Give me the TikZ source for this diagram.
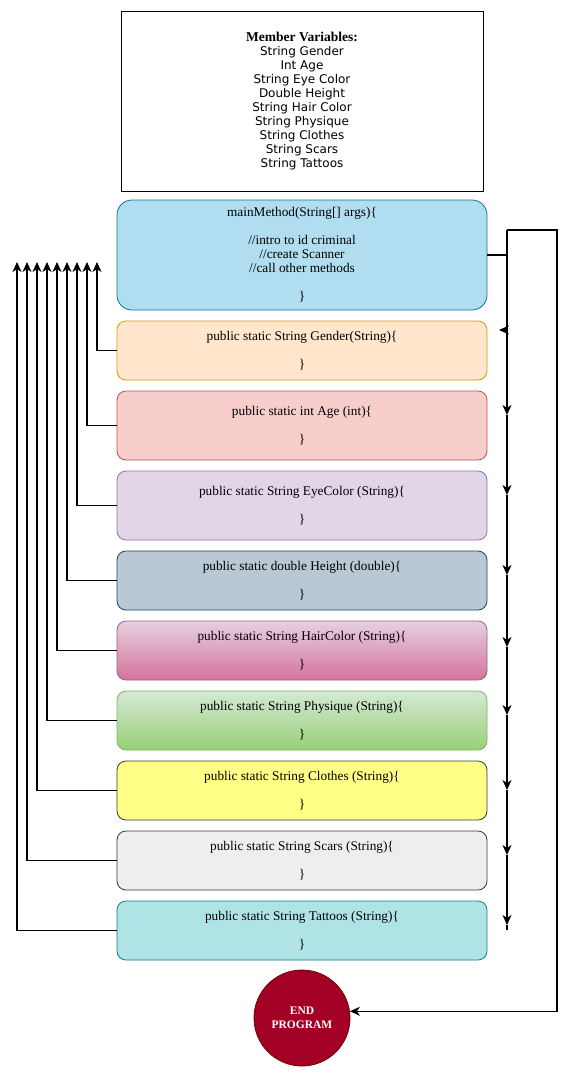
\documentclass[tikz,border=0pt]{standalone}
\usepackage{fontspec}
\setmainfont{Liberation Serif}
\newfontfamily\varfont{DejaVu Sans}
\usetikzlibrary{arrows.meta}

\definecolor{mainfill}{HTML}{B1DDF0}
\definecolor{mainline}{HTML}{10739E}
\definecolor{genfill}{HTML}{FFE6CC}
\definecolor{genline}{HTML}{D79B00}
\definecolor{agefill}{HTML}{F8CECC}
\definecolor{ageline}{HTML}{B85450}
\definecolor{eyefill}{HTML}{E1D5E7}
\definecolor{eyeline}{HTML}{9673A6}
\definecolor{hgtfill}{HTML}{BAC8D3}
\definecolor{hgtline}{HTML}{23445D}
\definecolor{hairtop}{HTML}{E6D0DE}
\definecolor{hairbot}{HTML}{D5739D}
\definecolor{hairline}{HTML}{996185}
\definecolor{phytop}{HTML}{D5E8D4}
\definecolor{phybot}{HTML}{97D077}
\definecolor{phyline}{HTML}{82B366}
\definecolor{clofill}{HTML}{FFFF88}
\definecolor{greyline}{HTML}{36393D}
\definecolor{scarfill}{HTML}{EEEEEE}
\definecolor{tatfill}{HTML}{B0E3E6}
\definecolor{tatline}{HTML}{0E8088}
\definecolor{endfill}{HTML}{A20025}
\definecolor{endline}{HTML}{6F0000}

\begin{document}
\begin{tikzpicture}[x=1pt,y=-1pt,
    method/.style={draw, line width=0.8pt, rounded corners=9pt, minimum width=370pt,
      minimum height=59pt, inner sep=0pt, align=center,
      font=\fontsize{13.3}{14}\selectfont},
    link/.style={-{Stealth[length=10pt,width=9pt,inset=3pt]}, line width=1.1pt}]

  \useasboundingbox (0,0) rectangle (576,1076);
  \fill[white] (0,0) rectangle (576,1076);

  % member variables
  \node[draw, line width=1pt, minimum width=362pt, minimum height=180pt, inner sep=0pt,
    align=center, font=\varfont\fontsize{12}{14}\selectfont] (vars) at (302,101)
    {{\rmfamily\bfseries\fontsize{13.5}{14}\selectfont Member Variables:}\\
     String Gender\\Int Age\\String Eye Color\\Double Height\\String Hair Color\\
     String Physique\\String Clothes\\String Scars\\String Tattoos};

  % methods
  \node[method, rounded corners=15pt, minimum height=110pt, fill=mainfill, draw=mainline]
    (main) at (302,255)
    {mainMethod(String[] args)\{\\~\\//intro to id criminal\\//create Scanner\\
     //call other methods\\~\\\}};
  \node[method, fill=genfill, draw=genline] (gender) at (302,350.5)
    {public static String Gender(String)\{\\~\\\}};
  \node[method, minimum height=69pt, fill=agefill, draw=ageline] (age) at (302,425.5)
    {public static int Age (int)\{\\~\\\}};
  \node[method, minimum height=69pt, fill=eyefill, draw=eyeline] (eye) at (302,505.5)
    {public static String EyeColor (String)\{\\~\\\}};
  \node[method, fill=hgtfill, draw=hgtline] (height) at (302,580.5)
    {public static double Height (double)\{\\~\\\}};
  \node[method, top color=hairtop, bottom color=hairbot, draw=hairline] (hair) at (302,650.5)
    {public static String HairColor (String)\{\\~\\\}};
  \node[method, top color=phytop, bottom color=phybot, draw=phyline] (physique) at (302,720.5)
    {public static String Physique (String)\{\\~\\\}};
  \node[method, fill=clofill, draw=greyline] (clothes) at (302,790.5)
    {public static String Clothes (String)\{\\~\\\}};
  \node[method, fill=scarfill, draw=greyline] (scars) at (302,860.5)
    {public static String Scars (String)\{\\~\\\}};
  \node[method, fill=tatfill, draw=tatline] (tattoos) at (302,930.5)
    {public static String Tattoos (String)\{\\~\\\}};

  \node[circle, fill=endfill, draw=endline, line width=0.8pt, minimum size=96pt, inner sep=0pt,
    align=center, text=white, font=\bfseries\fontsize{11.5}{14}\selectfont] (endprog) at (302,1018)
    {END\\PROGRAM};

  % returns on the left
  \foreach \n/\x in {gender/97,age/87,eye/77,height/67,hair/57,physique/47,clothes/37,scars/27,tattoos/17} {
    \coordinate (up\n) at (\x,262);
    \draw[link] (\n.west) -| (up\n);
  }

  % calls on the right
  \coordinate (rtop) at (507,230);
  \coordinate (rfar) at (557,230);
  \coordinate (rbot) at (507,930);
  \coordinate (lgen) at (508,330);
  \coordinate (lgentip) at (499,330);
  \foreach \i/\y in {1/415,2/495,3/575,4/647,5/715,6/790,7/855,8/925}
    \coordinate (d\i) at (507,\y);

  \draw[line width=1.1pt] (main.east) -- (main.east -| rtop);
  \draw[link] (rtop) -- (d1);
  \foreach \a/\b in {1/2,2/3,3/4,4/5,5/6,6/7,7/8}
    \draw[link] (d\a) -- (d\b);
  \draw[line width=1.1pt] (d8) -- (rbot);
  \draw[link] (lgen) -- (lgentip);
  \draw[link] (rtop) -- (rfar) |- (endprog.8);

\end{tikzpicture}
\end{document}
